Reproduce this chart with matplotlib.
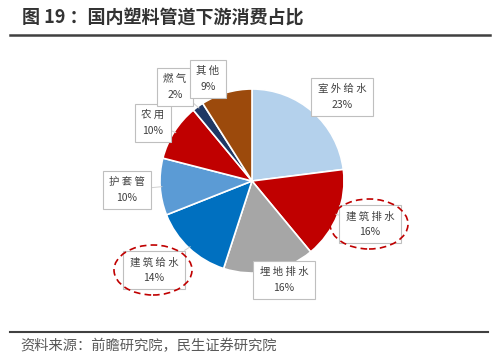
import matplotlib.pyplot as plt
from matplotlib.patches import Ellipse
import numpy as np

plt.rcParams['font.family'] = ['Noto Sans CJK SC', 'DejaVu Sans']

# data
labels = ['室外给水', '建筑排水', '埋地排水', '建筑给水', '护套管', '农用', '燃气', '其他']
shares = [23, 16, 16, 14, 10, 10, 2, 9]
colors = ['#B4D1EC', '#C00000', '#A6A6A6', '#0070C0', '#5B9BD5', '#C00000', '#1F3864', '#9C4A0C']
# label box centres in pixels (x, y from top)
label_pos = [(342, 97), (370, 224), (284, 280), (154, 270), (127, 190), (153, 123), (175, 87), (208, 79)]
circled = ['建筑排水', '建筑给水']

W, H = 500, 362
fig = plt.figure(figsize=(W / 100, H / 100), dpi=100)
fig.patch.set_facecolor('white')

# pie centre ~ (252,181) radius 92 px
cx, cy, r = 252, 181, 92
ax = fig.add_axes([(cx - r) / W, (H - cy - r) / H, 2 * r / W, 2 * r / H])
wedges, _ = ax.pie(shares, colors=colors, startangle=90, counterclock=False,
                   wedgeprops=dict(edgecolor='white', linewidth=1.2))
ax.set_xlim(-1, 1)
ax.set_ylim(-1, 1)
ax.set_aspect('equal')
ax.axis('off')

for w, lab, val, (lx, ly) in zip(wedges, labels, shares, label_pos):
    ang = np.deg2rad((w.theta1 + w.theta2) / 2)
    ax.annotate(' '.join(lab) + '\n' + '{}%'.format(val),
                xy=(0.98 * np.cos(ang), 0.98 * np.sin(ang)), xycoords='data',
                xytext=(lx, H - ly), textcoords='figure pixels',
                ha='center', va='center', fontsize=7.5, color='#404040',
                linespacing=1.7,
                bbox=dict(boxstyle='square,pad=0.6', fc='white', ec='#BFBFBF', lw=0.8),
                arrowprops=dict(arrowstyle='-', color='#D0D0D0', lw=0.7,
                                shrinkA=0, shrinkB=0))

# dashed red ellipses around highlighted labels
for lab in circled:
    lx, ly = label_pos[labels.index(lab)]
    e = Ellipse(((lx - 1) / W, (H - ly) / H), 78 / W, 50 / H, transform=fig.transFigure,
                fill=False, ec='#C00000', lw=1.2, ls=(0, (4, 2.5)), zorder=5)
    fig.add_artist(e)

# title and rules
fig.text(22 / W, 1 - 18 / H, '图 19 ：国内塑料管道下游消费占比', fontsize=13,
         fontweight='bold', color='#333333', va='center', ha='left')
fig.add_artist(plt.Line2D([10 / W, 490 / W], [1 - 35 / H, 1 - 35 / H], color='#404040', lw=1.8))
fig.add_artist(plt.Line2D([10 / W, 488 / W], [1 - 332 / H, 1 - 332 / H], color='#404040', lw=1.5))
fig.text(20 / W, 1 - 346 / H, '资料来源：前瞻研究院，民生证券研究院', fontsize=10.3,
         color='#595959', va='center', ha='left')

fig.savefig('out.png', dpi=100, facecolor='white')
